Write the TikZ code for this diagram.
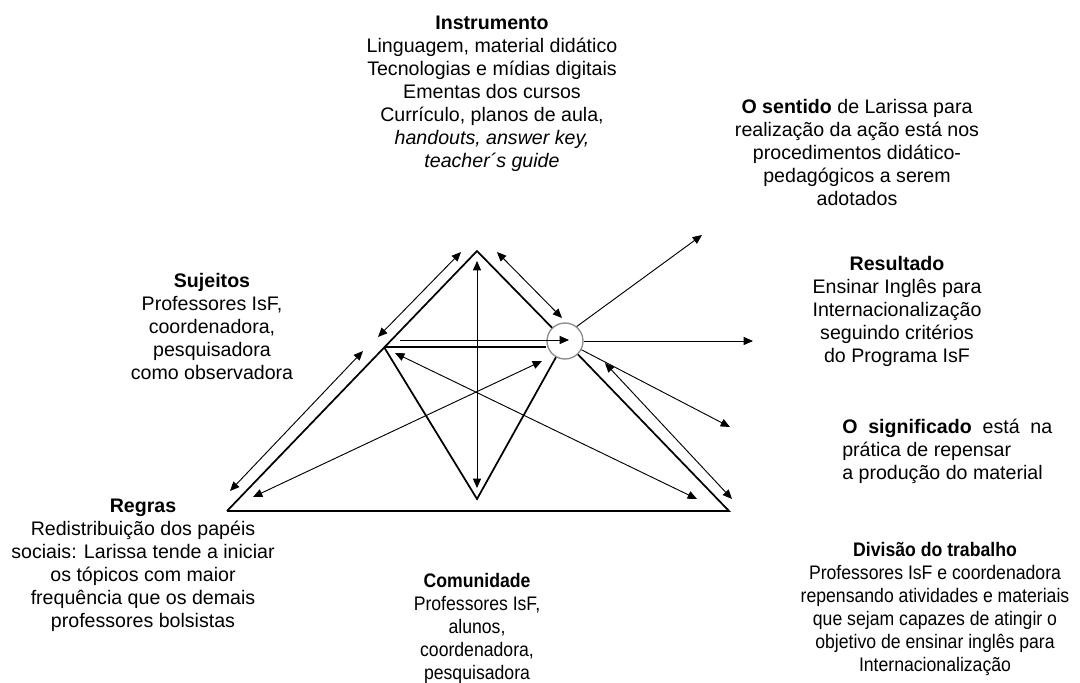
\documentclass[tikz,border=0pt]{standalone}
\usepackage{fontspec}
\setmainfont{Liberation Sans}
\newfontfamily\narrowsf[FakeStretch=0.9]{Liberation Sans}
\usetikzlibrary{arrows.meta}

\begin{document}
\begin{tikzpicture}[
  x=0.75pt, y=-0.75pt,
  font=\fontsize{14.7}{17.25}\selectfont,
  txt/.style={align=center, inner sep=0pt},
  narrow/.style={font=\narrowsf\fontsize{14.7}{17.25}\selectfont},
  side/.style={line width=1.3pt, line join=miter},
  link/.style={line width=0.7pt,
      {Triangle[length=7pt,width=6pt]}-{Triangle[length=7pt,width=6pt]}},
  arrow/.style={line width=0.7pt, -{Triangle[length=7pt,width=6pt]}},
  objcirc/.style={circle, draw=black!45, line width=1pt,
      minimum size=27pt, inner sep=0pt}
]
\useasboundingbox (0,0) rectangle (1080,682);
\coordinate (apex) at (477,251);
\coordinate (subj) at (384,347);
\coordinate (rules) at (227,511);
\coordinate (comm) at (477,499);
\coordinate (divv) at (729,511);
\node[objcirc] (obj) at (565,341) {};
\draw[side] (rules) -- (apex) -- (obj);
\draw[side] (obj) -- (divv) -- (rules);
\draw[side] (subj) -- (comm) -- (obj);
\draw[side] (subj) -- (subj -| obj.west);
\coordinate (is1) at (378,337);
\coordinate (is2) at (461,252);
\coordinate (io1) at (497,252);
\coordinate (io2) at (562,318);
\coordinate (sr1) at (230,491);
\coordinate (sr2) at (363,351);
\coordinate (od1) at (605,363);
\coordinate (od2) at (732,499);
\coordinate (ro1) at (253,497);
\coordinate (ro2) at (542,361);
\coordinate (sd1) at (395,353);
\coordinate (sd2) at (697,499);
\coordinate (ic1) at (477,261);
\coordinate (ic2) at (477,488);
\coordinate (so1) at (400,340);
\coordinate (so2) at (569,340);
\coordinate (sen) at (702,235);
\coordinate (res) at (753,341);
\coordinate (sig) at (730,427);
\draw[link] (is1) -- (is2);
\draw[link] (io1) -- (io2);
\draw[link] (sr1) -- (sr2);
\draw[link] (od1) -- (od2);
\draw[link] (ro1) -- (ro2);
\draw[link] (sd1) -- (sd2);
\draw[link] (ic1) -- (ic2);
\draw[arrow] (so1) -- (so2);
\draw[arrow] (obj.51) -- (sen);
\draw[arrow] (obj.east) -- (res);
\draw[arrow] (obj.-28) -- (sig);
\node[txt] (instr) at (492,94)
  {\textbf{Instrumento}\\Linguagem, material didático\\
   Tecnologias e mídias digitais\\Ementas dos cursos\\
   Currículo, planos de aula,\\\textit{handouts, answer key,}\\
   \textit{teacher´s guide}};
\node[txt] (sentido) at (857,152.5)
  {\textbf{O sentido} de Larissa para\\realização da ação está nos\\
   procedimentos didático-\\pedagógicos a serem\\adotados};
\node[txt] (result) at (897,311)
  {\textbf{Resultado}\\Ensinar Inglês para\\Internacionalização\\
   seguindo critérios\\do Programa IsF};
\node[txt, align=left, anchor=west] (signif) at (842,451.5)
  {\makebox[157.5pt][s]{\textbf{O significado} está na}\\
   prática de repensar\\a produção do material};
\node[txt] (sujeitos) at (212,326)
  {\textbf{Sujeitos}\\Professores IsF,\\coordenadora,\\pesquisadora\\
   como observadora};
\node[txt] (regras) at (143,565.5)
  {\textbf{Regras}\\Redistribuição dos papéis\\
   sociais: Larissa tende a iniciar\\os tópicos com maior\\
   frequência que os demais\\professores bolsistas};
\node[txt, narrow] (comun) at (477,628)
  {\textbf{Comunidade}\\Professores IsF,\\alunos,\\coordenadora,\\
   pesquisadora};
\node[txt, narrow] (divisao) at (935,609)
  {\textbf{Divisão do trabalho}\\Professores IsF e coordenadora\\
   repensando atividades e materiais\\que sejam capazes de atingir o\\
   objetivo de ensinar inglês para\\Internacionalização};
\end{tikzpicture}
\end{document}
